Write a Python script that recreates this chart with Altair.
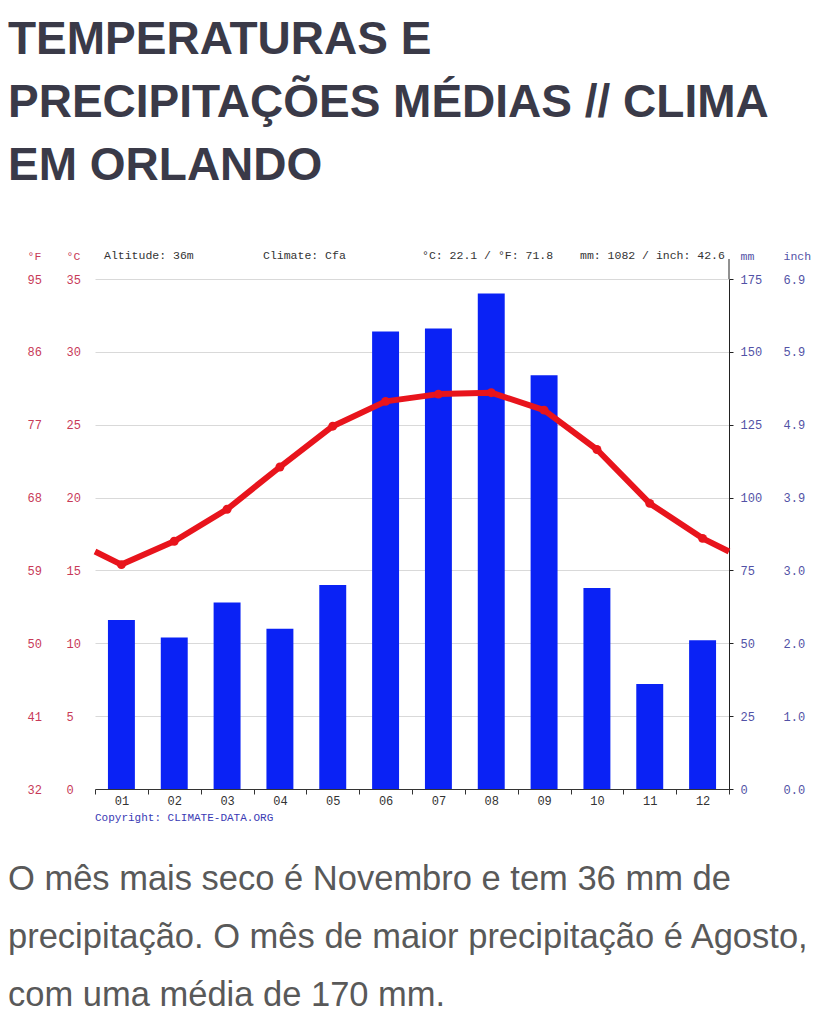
import altair as alt
import pandas as pd

# ---------------- data ----------------
month_num = list(range(1, 13))
temp_c = [15.4, 17.0, 19.2, 22.1, 24.9, 26.6, 27.1, 27.2, 26.0, 23.3, 19.6, 17.2]
precip_mm = [58, 52, 64, 55, 70, 157, 158, 170, 142, 69, 36, 51]
temp_ticks = [0, 5, 10, 15, 20, 25, 30, 35]
mm_ticks = [0, 25, 50, 75, 100, 125, 150, 175]
month_bounds = [m - 0.5 for m in month_num] + [12.5]

title_lines = ["TEMPERATURAS E", "PRECIPITAÇÕES MÉDIAS // CLIMA", "EM ORLANDO"]
paragraph_lines = [
    "O mês mais seco é Novembro e tem 36 mm de",
    "precipitação. O mês de maior precipitação é Agosto,",
    "com uma média de 170 mm.",
]
header_altitude = "Altitude: 36m"
header_climate = "Climate: Cfa"
header_temp = "°C: 22.1 / °F: 71.8"
header_precip = "mm: 1082 / inch: 42.6"
copyright_text = "Copyright: CLIMATE-DATA.ORG"

# ---------------- tables ----------------
df = pd.DataFrame({"m": month_num, "temp": temp_c, "mm": precip_mm})
edge_temp = (temp_c[0] + temp_c[-1]) / 2
line_df = pd.DataFrame({"m": [0.5] + month_num + [12.5],
                        "temp": [edge_temp] + temp_c + [edge_temp]})
one = alt.Data(values=[{}])

# ---------------- style ----------------
MONO = "Liberation Mono"
RED_AX = "#c83a58"
BLUE_AX = "#5252a6"
RED = "#e8141c"
BLUE = "#0a22f5"
W, H = 634, 510
LFS = 12

xscale = alt.Scale(domain=[0.5, 12.5], nice=False, zero=False)
tscale = alt.Scale(domain=[0, 35], nice=False, zero=True)
mscale = alt.Scale(domain=[0, 175], nice=False, zero=True)

x_tick_axis = alt.Axis(
    orient="bottom", values=month_bounds, title=None, grid=False, labels=False,
    tickSize=5, tickColor="#333", domainColor="#333",
)
x_label_axis = alt.Axis(
    orient="bottom", values=month_num, title=None, grid=False, domain=False,
    ticks=False, tickSize=0,
    labelExpr="datum.value < 10 ? '0' + datum.value : '' + datum.value",
    labelOverlap=False, labelFlush=False,
    labelColor="#333", labelFont=MONO, labelFontSize=LFS, labelPadding=6,
)

def left_axis(pad, title, expr=None):
    kw = dict(
        orient="left", values=temp_ticks, domain=False, ticks=False, tickSize=0,
        labelAlign="left", labelPadding=pad, labelColor=RED_AX, labelFont=MONO,
        labelFontSize=LFS, title=title, titleAngle=0, titleAlign="left",
        titleBaseline="alphabetic", titleX=-pad, titleY=-20, titleColor=RED_AX,
        titleFont=MONO, titleFontSize=11.5, titleFontWeight="normal",
    )
    if expr:
        kw["labelExpr"] = expr
        kw["grid"] = False
    else:
        kw["grid"] = True
        kw["gridColor"] = "#d9d9d9"
        kw["gridWidth"] = 1.2
    return alt.Axis(**kw)

def right_axis(pad, title, ticks, expr=None):
    kw = dict(
        orient="right", values=mm_ticks, grid=False,
        labelAlign="left", labelPadding=pad, labelColor=BLUE_AX, labelFont=MONO,
        labelFontSize=LFS, title=title, titleAngle=0, titleAlign="left",
        titleBaseline="alphabetic", titleY=-20, titleColor=BLUE_AX,
        titleFont=MONO, titleFontSize=11.5, titleFontWeight="normal",
    )
    if ticks:
        kw.update(domain=True, domainColor="#222", ticks=True, tickSize=4,
                  tickColor="#222", titleX=11)
    else:
        kw.update(domain=False, ticks=False, tickSize=0, titleX=pad)
    if expr:
        kw["labelExpr"] = expr
    return alt.Axis(**kw)

# ---------------- layers ----------------
fahr = alt.Chart(df).mark_point(opacity=0).encode(
    x=alt.X("m:Q", scale=xscale, axis=x_label_axis),
    y=alt.Y("temp:Q", scale=tscale,
            axis=left_axis(68, "°F", "format(datum.value * 9 / 5 + 32, 'd')")),
)

bars = alt.Chart(df).transform_calculate(
    x0="datum.m - 0.255", x1="datum.m + 0.255"
).mark_bar(color=BLUE).encode(
    x=alt.X("x0:Q", scale=xscale, axis=x_tick_axis),
    x2="x1:Q",
    y=alt.Y("mm:Q", scale=mscale, axis=right_axis(7, "mm", True)),
    y2=alt.datum(0),
)

inch = alt.Chart(df).mark_point(opacity=0).encode(
    x=alt.X("m:Q", scale=xscale, axis=None),
    y=alt.Y("mm:Q", scale=mscale,
            axis=right_axis(54, "inch", False, "format(datum.value / 25.4, '.1f')")),
)

line = alt.Chart(line_df).mark_line(color=RED, strokeWidth=6, strokeJoin="round").encode(
    x=alt.X("m:Q", scale=xscale, axis=None),
    y=alt.Y("temp:Q", scale=tscale, axis=left_axis(29, "°C")),
)

pts = alt.Chart(df).mark_circle(color=RED, size=80, opacity=1).encode(
    x=alt.X("m:Q", scale=xscale, axis=None),
    y=alt.Y("temp:Q", scale=tscale, axis=None),
)

top_rule = alt.Chart(one).mark_rule(color="#222", strokeWidth=1).encode(
    x=alt.value(W), y=alt.value(-20), y2=alt.value(0)
)

def label(text, x, y, **kw):
    return alt.Chart(one).mark_text(align="left", baseline="alphabetic", **kw).encode(
        x=alt.value(x), y=alt.value(y), text=alt.value(text)
    )

hdr = dict(font=MONO, fontSize=11.5, color="#333")
texts = [
    label(header_altitude, 9, -20, **hdr),
    label(header_climate, 168, -20, **hdr),
    label(header_temp, 327, -20, **hdr),
    label(header_precip, 485, -20, **hdr),
    label(copyright_text, 0, 542, font=MONO, fontSize=11, color="#3a3ab4"),
    label(title_lines, -87, -225, font="Liberation Sans", fontSize=46,
          fontWeight="bold", color="#3a3a48", lineHeight=63),
    label(paragraph_lines, -87, 611, font="Liberation Sans", fontSize=34.5,
          color="#595959", lineHeight=58),
]

chart = alt.layer(fahr, bars, inch, line, pts, top_rule, *texts).resolve_scale(
    y="independent"
).resolve_axis(
    x="independent"
).properties(
    width=W, height=H, autosize="none",
    padding={"left": 87, "top": 271, "right": 86, "bottom": 226},
    background="white",
).configure_view(strokeWidth=0)

chart.save("out.html", embed_options={"renderer": "svg", "actions": False})
